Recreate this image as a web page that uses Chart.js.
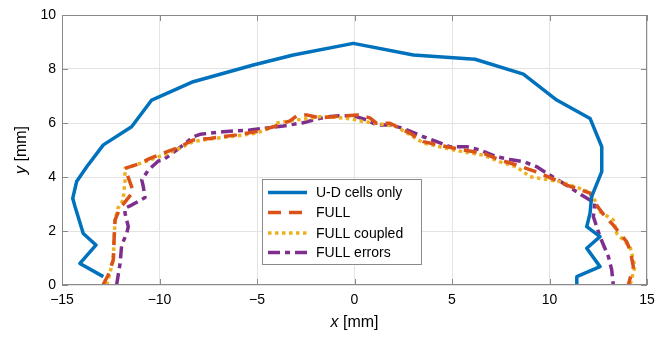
<!DOCTYPE html>
<html>
<head>
<meta charset="utf-8">
<script src="https://cdn.jsdelivr.net/npm/chart.js@4"></script>
<style>
  html, body { margin: 0; padding: 0; background: #fff; }
  canvas { display: block; }
</style>
</head>
<body>
<canvas id="grafica" width="668" height="337"></canvas>
<script>
// datos (x, y en mm)
const seriesNames = ['U-D cells only', 'FULL', 'FULL coupled', 'FULL errors'];

const udX = [-12.88, -14.08, -13.26, -13.91, -14.33, -14.45, -14.25, -13.73, -12.88, -11.43, -10.4, -8.27, -5.19, -3.14, -0.06, 3.02, 6.18, 8.66, 10.37, 12.08, 12.68, 12.68, 12.16, 12.08, 11.91, 12.59, 11.91, 12.59, 11.4, 11.4];
const udY = [0.31, 0.8, 1.48, 1.91, 2.9, 3.21, 3.83, 4.38, 5.19, 5.86, 6.85, 7.53, 8.15, 8.52, 8.95, 8.52, 8.36, 7.81, 6.85, 6.17, 5.12, 4.2, 3.27, 2.66, 2.16, 1.79, 1.36, 0.68, 0.31, 0];

const fullX = [-12.9, -12.63, -12.37, -12.33, -12.28, -12.03, -11.34, -11.77, -11.0, -10.49, -9.81, -8.95, -8.27, -7.41, -6.04, -5.02, -4.16, -3.31, -2.96, -2.45, -1.77, -0.74, 0.18, 0.79, 1.14, 1.82, 2.85, 3.53, 4.73, 5.58, 6.61, 7.46, 8.32, 9.51, 10.88, 12.08, 12.33, 12.93, 13.27, 13.96, 14.13, 14.3, 14.04];
const fullY = [0, 0.37, 0.93, 1.67, 2.41, 2.84, 3.46, 4.32, 4.5, 4.69, 4.88, 5.12, 5.37, 5.43, 5.56, 5.68, 5.86, 6.08, 6.27, 6.3, 6.19, 6.26, 6.3, 6.19, 5.99, 5.99, 5.62, 5.31, 5.12, 5.0, 4.88, 4.63, 4.44, 4.14, 3.7, 3.4, 3.03, 2.47, 2.22, 1.6, 1.3, 0.68, 0];

const coupledX = [-12.7, -12.37, -12.33, -12.28, -12.13, -11.86, -11.82, -11.77, -11.77, -11.0, -10.49, -9.81, -8.95, -8.27, -7.41, -6.04, -5.02, -4.16, -4.08, -3.31, -1.77, -0.91, -0.06, 0.45, 1.14, 2.16, 2.85, 3.53, 4.73, 5.58, 6.61, 7.46, 8.32, 9.0, 10.51, 11.54, 12.16, 12.59, 13.27, 13.45, 14.13, 14.38, 14.13];
const coupledY = [0, 0.93, 1.67, 2.41, 2.85, 3.15, 3.52, 3.83, 4.32, 4.5, 4.63, 4.81, 5.07, 5.31, 5.41, 5.52, 5.63, 5.86, 5.99, 6.08, 6.23, 6.21, 6.14, 6.05, 5.99, 5.86, 5.56, 5.26, 5.06, 4.93, 4.81, 4.56, 4.37, 4.01, 3.83, 3.58, 3.4, 2.71, 2.41, 1.91, 1.42, 0.68, 0];

const errX = [-12.2, -12.02, -11.94, -11.68, -11.6, -11.77, -11.77, -11.43, -10.74, -10.83, -10.91, -10.57, -10.06, -9.81, -9.12, -8.78, -8.27, -7.92, -6.73, -5.36, -3.99, -3.65, -2.63, -2.11, -1.43, -0.74, -0.06, 0.63, 1.14, 1.82, 2.5, 3.53, 4.22, 4.9, 5.75, 6.44, 7.29, 7.97, 8.66, 9.35, 9.86, 10.71, 11.65, 12.33, 12.25, 12.59, 13.02, 13.19, 13.27];
const errY = [0, 0.8, 1.48, 1.91, 2.16, 2.66, 2.84, 2.96, 3.24, 3.64, 3.89, 4.26, 4.59, 4.63, 5.0, 5.19, 5.49, 5.58, 5.68, 5.74, 5.86, 5.89, 6.01, 6.11, 6.23, 6.27, 6.27, 6.11, 5.93, 5.93, 5.8, 5.49, 5.31, 5.12, 5.12, 5.0, 4.75, 4.65, 4.57, 4.38, 4.14, 3.77, 3.33, 3.03, 2.53, 1.79, 1.05, 0.56, 0];

const xTicks = [-15, -10, -5, 0, 5, 10, 15];
const yTicks = [0, 2, 4, 6, 8, 10];

const FONT = '"Liberation Sans", Arial, Helvetica, sans-serif';
const AXIS_COLOR = '#8a8a8a';

function puntos(xs, ys) {
    return xs.map((x, i) => ({ x: x, y: ys[i] }));
}
function fmt(v) {
    return v < 0 ? '\u2212' + Math.abs(v) : String(v);
}

// caja, marcas hacia dentro, leyenda y titulos de ejes (estilo matlab)
const matlabPlugin = {
    id: 'matlabPlugin',
    afterDraw(chart) {
        const { ctx, chartArea: a, scales } = chart;
        ctx.save();
        ctx.strokeStyle = AXIS_COLOR;
        ctx.lineWidth = 1;
        ctx.strokeRect(Math.round(a.left) + 0.5, Math.round(a.top) + 0.5,
            Math.round(a.width) - 1, Math.round(a.height) - 1);

        const tl = 6;
        ctx.beginPath();
        xTicks.forEach(v => {
            const px = Math.round(scales.x.getPixelForValue(v)) + 0.5;
            ctx.moveTo(px, a.bottom); ctx.lineTo(px, a.bottom - tl);
            ctx.moveTo(px, a.top); ctx.lineTo(px, a.top + tl);
        });
        yTicks.forEach(v => {
            const py = Math.round(scales.y.getPixelForValue(v)) + 0.5;
            ctx.moveTo(a.left, py); ctx.lineTo(a.left + tl, py);
            ctx.moveTo(a.right, py); ctx.lineTo(a.right - tl, py);
        });
        ctx.stroke();

        // leyenda
        const lx = 262, ly = 179, lw = 159, lh = 85;
        ctx.fillStyle = '#fff';
        ctx.fillRect(lx, ly, lw, lh);
        ctx.strokeStyle = AXIS_COLOR;
        ctx.strokeRect(lx + 0.5, ly + 0.5, lw, lh);
        const rows = [192.5, 212.5, 233, 252.5];
        chart.data.datasets.forEach((ds, i) => {
            ctx.save();
            ctx.strokeStyle = ds.borderColor;
            ctx.lineWidth = ds.borderWidth;
            ctx.setLineDash(ds.borderDash || []);
            ctx.beginPath();
            ctx.moveTo(268, rows[i]);
            ctx.lineTo(307, rows[i]);
            ctx.stroke();
            ctx.restore();
            ctx.fillStyle = '#000';
            ctx.font = '14px ' + FONT;
            ctx.textBaseline = 'middle';
            ctx.textAlign = 'left';
            ctx.fillText(ds.label, 316, rows[i] + 1);
        });

        // titulos de ejes con variable en cursiva
        ctx.fillStyle = '#000';
        ctx.textBaseline = 'middle';
        ctx.font = 'italic 16px ' + FONT;
        const xv = 'x', yv = 'y';
        const rest = ' [mm]';
        const wItal = ctx.measureText(xv).width;
        ctx.font = '16px ' + FONT;
        const wRest = ctx.measureText(rest).width;
        let sx = (a.left + a.right) / 2 - (wItal + wRest) / 2;
        ctx.textAlign = 'left';
        ctx.font = 'italic 16px ' + FONT;
        ctx.fillText(xv, sx, 323);
        ctx.font = '16px ' + FONT;
        ctx.fillText(rest, sx + wItal, 323);

        ctx.translate(22, (a.top + a.bottom) / 2);
        ctx.rotate(-Math.PI / 2);
        ctx.font = 'italic 16px ' + FONT;
        const wy = ctx.measureText(yv).width;
        sx = -(wy + wRest) / 2;
        ctx.fillText(yv, sx, 0);
        ctx.font = '16px ' + FONT;
        ctx.fillText(rest, sx + wy, 0);
        ctx.restore();
    }
};

new Chart(document.getElementById('grafica').getContext('2d'), {
    type: 'scatter',
    data: {
        datasets: [{
            label: seriesNames[0],
            data: puntos(udX, udY),
            borderColor: '#0072BD',
            borderWidth: 3.5
        }, {
            label: seriesNames[1],
            data: puntos(fullX, fullY),
            borderColor: '#D95319',
            borderWidth: 3.5,
            borderDash: [13, 8]
        }, {
            label: seriesNames[2],
            data: puntos(coupledX, coupledY),
            borderColor: '#EDB120',
            borderWidth: 3.5,
            borderDash: [3.5, 3.5]
        }, {
            label: seriesNames[3],
            data: puntos(errX, errY),
            borderColor: '#7E2F8E',
            borderWidth: 3.5,
            borderDash: [12, 5, 5, 5]
        }]
    },
    options: {
        responsive: false,
        animation: false,
        devicePixelRatio: 1,
        showLine: true,
        elements: {
            point: { radius: 0, hoverRadius: 0 },
            line: { tension: 0, borderCapStyle: 'butt', borderJoinStyle: 'round' }
        },
        layout: { padding: { left: 0, right: 21, top: 15, bottom: 0 } },
        plugins: {
            legend: { display: false },
            tooltip: { enabled: false }
        },
        scales: {
            x: {
                type: 'linear',
                min: -15, max: 15,
                afterFit: s => { s.height = 52; },
                afterBuildTicks: s => { s.ticks = xTicks.map(v => ({ value: v })); },
                grid: { color: '#e3e3e3', drawTicks: false },
                border: { display: false },
                ticks: {
                    padding: 7,
                    color: '#000',
                    font: { family: FONT, size: 14 },
                    maxRotation: 0,
                    callback: v => fmt(v)
                }
            },
            y: {
                type: 'linear',
                min: 0, max: 10,
                afterFit: s => { s.width = 62; },
                afterBuildTicks: s => { s.ticks = yTicks.map(v => ({ value: v })); },
                grid: { color: '#e3e3e3', drawTicks: false },
                border: { display: false },
                ticks: {
                    padding: 6,
                    color: '#000',
                    font: { family: FONT, size: 14 },
                    callback: v => fmt(v)
                }
            }
        }
    },
    plugins: [matlabPlugin]
});
</script>
</body>
</html>
